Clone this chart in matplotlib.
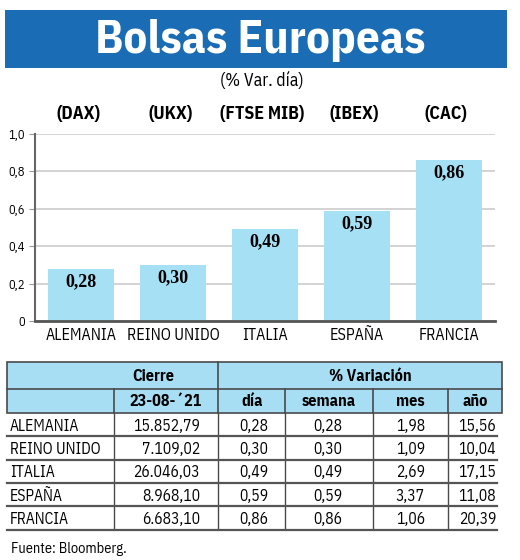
import matplotlib
matplotlib.use("Agg")
import matplotlib.pyplot as plt
from matplotlib.patches import Rectangle
import matplotlib.transforms as mtrans
from matplotlib import font_manager as fm
from matplotlib.textpath import TextPath
from matplotlib.font_manager import FontProperties

# ---- data ----
countries = ["ALEMANIA", "REINO UNIDO", "ITALIA", "ESPAÑA", "FRANCIA"]
indices = ["(DAX)", "(UKX)", "(FTSE MIB)", "(IBEX)", "(CAC)"]
var_dia = [0.28, 0.30, 0.49, 0.59, 0.86]
cierre = ["15.852,79", "7.109,02", "26.046,03", "8.968,10", "6.683,10"]
dia = ["0,28", "0,30", "0,49", "0,59", "0,86"]
semana = ["0,28", "0,30", "0,49", "0,59", "0,86"]
mes = ["1,98", "1,09", "2,69", "3,37", "1,06"]
anio = ["15,56", "10,04", "17,15", "11,08", "20,39"]
yticks = [0, 0.2, 0.4, 0.6, 0.8, 1.0]
ytick_labels = ["0", "0,2", "0,4", "0,6", "0,8", "1,0"]
sub_heads = ["23-08-´21", "día", "semana", "mes", "año"]

# ---- font selection: a humanist condensed sans close to the reference ----
def _w(weight):
    if isinstance(weight, str):
        return fm.weight_dict.get(weight, 400)
    return weight

faces = {}
for f in fm.fontManager.ttflist:
    faces.setdefault(f.name, set()).add(_w(f.weight))

cands = ["PT Sans Narrow", "Fira Sans Condensed", "Roboto Condensed", "Open Sans Condensed",
         "Encode Sans Condensed", "Encode Sans Semi Condensed", "Barlow Semi Condensed",
         "Barlow Condensed", "Archivo Narrow", "Asap Condensed", "Asap", "Source Sans Pro",
         "Source Sans 3", "PT Sans", "Fira Sans", "Signika", "Cabin Condensed", "Cabin",
         "IBM Plex Sans Condensed", "Saira Semi Condensed", "Hind", "Mukta", "Roboto",
         "Liberation Sans Narrow", "Ubuntu Condensed", "Lato", "Open Sans"]

def ratio(fam):
    fp = FontProperties(family=fam)
    w = TextPath((0, 0), "ALEMANIA", size=100, prop=fp).get_extents().width
    h = TextPath((0, 0), "H", size=100, prop=fp).get_extents().height
    return w / h

best, best_err = "Lato", 1e9
for c in cands:
    if c in faces and 400 in faces[c] and max(faces[c]) >= 600:
        try:
            err = abs(ratio(c) - 6.2)
        except Exception:
            continue
        if err < best_err:
            best, best_err = c, err
narrow = best
NARROW = [narrow, "DejaVu Sans"]
SERIF = ["Liberation Serif", "DejaVu Serif"]

def fit(sample, width_px, bold=False, family=None):
    fam = family or narrow
    fp = FontProperties(family=fam, weight="bold" if bold else "normal")
    w100 = TextPath((0, 0), sample, size=100, prop=fp).get_extents().width
    return width_px / (w100 / 100 * 100 / 72)

BLUE = "#1a6db4"
LIGHT = "#a8def4"
BAR = "#a6e0f5"
LINE = "#4a4a4a"

W, H = 520, 560
fig = plt.figure(figsize=(W / 100, H / 100), dpi=100)
fig.patch.set_facecolor("white")

bg = fig.add_axes([0, 0, 1, 1])
bg.set_xlim(0, W)
bg.set_ylim(H, 0)
bg.axis("off")

# Title banner
bg.add_patch(Rectangle((5, 10), 502, 58, facecolor=BLUE, edgecolor="none"))
bg.text(260, 40, "Bolsas Europeas", color="white", fontsize=fit("Bolsas Europeas", 326, True),
        fontweight="bold", family=NARROW, ha="center", va="center")
bg.text(262, 81, "(% Var. día)", fontsize=fit("(% Var. día)", 81), family=NARROW,
        ha="center", va="center")

# ---- bar chart ----
x0, x1 = 35, 495
y_top, y_zero = 134, 321
ax = fig.add_axes([x0 / W, 1 - y_zero / H, (x1 - x0) / W, (y_zero - y_top) / H])
pos = list(range(len(countries)))
ax.bar(pos, var_dia, width=0.72, color=BAR, zorder=2)
ax.set_xlim(-0.5, len(countries) - 0.5)
ax.set_ylim(0, 1.0)
ax.set_yticks(yticks)
ax.set_yticklabels(ytick_labels, family=NARROW, fontsize=max(fit("1,0", 15), 9))
ax.set_xticks(pos)
cat_size = min(fit("ALEMANIA", 86), fit("REINO UNIDO", 90))
ax.set_xticklabels(countries, family=NARROW, fontsize=cat_size)
ax.tick_params(axis="x", length=0, pad=4)
ax.tick_params(axis="y", length=4, width=0.8, color="#999999", pad=3)
ax.grid(axis="y", color="#cccccc", linewidth=1.2, zorder=0)
for s in ["top", "right"]:
    ax.spines[s].set_visible(False)
ax.spines["left"].set_color("#666666")
ax.spines["left"].set_linewidth(1.5)
ax.spines["bottom"].set_color("#555555")
ax.spines["bottom"].set_linewidth(2)
for p, v in zip(pos, var_dia):
    ax.annotate(f"{v:.2f}".replace(".", ","), (p, v), xytext=(0, -3), textcoords="offset points",
                ha="center", va="top", fontsize=13, fontweight="bold", family=SERIF, zorder=3)
trans = mtrans.blended_transform_factory(ax.transData, bg.transData)
idx_size = fit("(DAX)", 43, True)
for p, lab in zip(pos, indices):
    ax.text(p - 0.03, 114, lab, transform=trans, ha="center", va="center",
            fontsize=idx_size, fontweight="bold", family=NARROW)

# ---- table ----
tl, tr = 7, 502
h1, h2, h3 = 362, 389, 413
row_h = 23.3
bg.add_patch(Rectangle((tl, h1), tr - tl, h3 - h1, facecolor=LIGHT, edgecolor=LINE, linewidth=1.2))
bg.plot([tl, tr], [h2, h2], color=LINE, lw=1.2)
bg.plot([218, 218], [h1, h3], color=LINE, lw=1.2)
for cx in [114, 285, 373, 448]:
    bg.plot([cx, cx], [h2, h3], color=LINE, lw=1.2)

hsize = fit("% Variación", 81, True)
bg.text(153, (h1 + h2) / 2 + 1, "Cierre", fontsize=hsize, fontweight="bold", family=NARROW,
        ha="center", va="center")
bg.text(370, (h1 + h2) / 2 + 1, "% Variación", fontsize=hsize, fontweight="bold", family=NARROW,
        ha="center", va="center")
sub_x = [166, 252, 329, 410, 475]
for sx, sh in zip(sub_x, sub_heads):
    bg.text(sx, (h2 + h3) / 2 + 1, sh, fontsize=hsize, fontweight="bold", family=NARROW,
            ha="center", va="center")

n = len(countries)
bottom = h3 + n * row_h
for cx in [114, 218, 285, 373, 448]:
    bg.plot([cx, cx], [h3, bottom - 2], color=LINE, lw=1.0)
right_x = [200, 268, 342, 425, 496]
dsize = min(fit("ALEMANIA", 69), fit("REINO UNIDO", 95))
for i in range(n):
    yc = h3 + (i + 0.5) * row_h + 1
    bg.text(10, yc, countries[i], fontsize=dsize, family=NARROW, ha="left", va="center")
    for rx, val in zip(right_x, [cierre[i], dia[i], semana[i], mes[i], anio[i]]):
        bg.text(rx, yc, val, fontsize=dsize, family=NARROW, ha="right", va="center")
    yl = h3 + (i + 1) * row_h
    bg.plot([tl, 497], [yl, yl], color="#555555", lw=1.6)

bg.text(11, 549, "Fuente: Bloomberg.", fontsize=fit("Fuente: Bloomberg.", 113), family=NARROW,
        ha="left", va="center")

fig.savefig("out.png", dpi=100, facecolor="white")
